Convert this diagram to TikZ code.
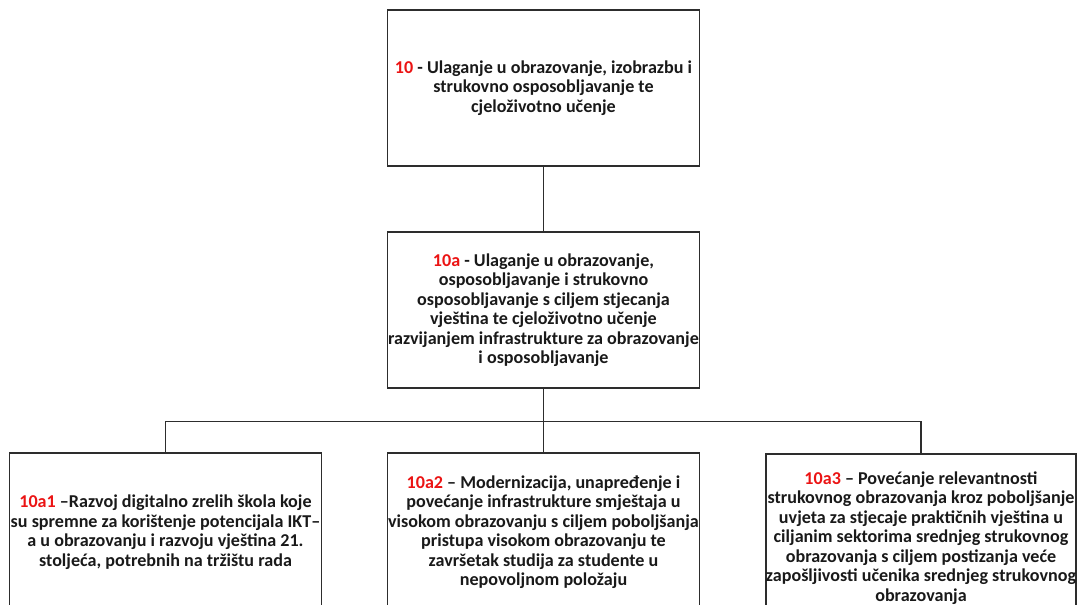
\documentclass[tikz,border=0pt]{standalone}
\usepackage{fontspec}
\setmainfont{Carlito}
\definecolor{numred}{RGB}{235,20,20}
\definecolor{edge}{RGB}{45,45,45}
\begin{document}
\begin{tikzpicture}[x=1pt,y=-1pt,
  box/.style={draw=edge,line width=1.6pt,minimum width=312pt,inner sep=0pt,
    align=center,font=\bfseries\fontsize{18.1}{19.5}\selectfont,text=black!90},
  conn/.style={draw=edge,line width=1.6pt}]
\useasboundingbox (0,0) rectangle (1080,605);
\clip (0,0) rectangle (1080,605);
\node[box,minimum height=156pt] (t) at (543.5,88) {\textcolor{numred}{10} - Ulaganje u obrazovanje, izobrazbu i\\strukovno osposobljavanje te\\cjeloživotno učenje};
\node[box,minimum height=156pt] (m) at (543.5,310) {\textcolor{numred}{10a} - Ulaganje u obrazovanje,\\osposobljavanje i strukovno\\osposobljavanje s ciljem stjecanja\\vještina te cjeloživotno učenje\\razvijanjem infrastrukture za obrazovanje\\i osposobljavanje};
\node[box,minimum height=158pt] (b1) at (165.5,532) {\textcolor{numred}{10a1} –Razvoj digitalno zrelih škola koje\\su spremne za korištenje potencijala IKT–\\a u obrazovanju i razvoju vještina 21.\\stoljeća, potrebnih na tržištu rada};
\node[box,minimum height=158pt] (b2) at (543.5,532) {\textcolor{numred}{10a2} – Modernizacija, unapređenje i\\povećanje infrastrukture smještaja u\\visokom obrazovanju s ciljem poboljšanja\\pristupa visokom obrazovanju te\\završetak studija za studente u\\nepovoljnom položaju};
\node[box,minimum width=310pt,minimum height=168pt] (b3) at (921,538) {\textcolor{numred}{10a3} – Povećanje relevantnosti\\strukovnog obrazovanja kroz poboljšanje\\uvjeta za stjecaje praktičnih vještina u\\ciljanim sektorima srednjeg strukovnog\\obrazovanja s ciljem postizanja veće\\zapošljivosti učenika srednjeg strukovnog\\obrazovanja};
\coordinate (j) at (543.5,421.5);
\draw[conn] (t.south) -- (m.north);
\draw[conn] (m.south) -- (j);
\draw[conn] (b1.north) |- (j) -| (b3.north);
\draw[conn] (j) -- (b2.north);
\end{tikzpicture}
\end{document}
